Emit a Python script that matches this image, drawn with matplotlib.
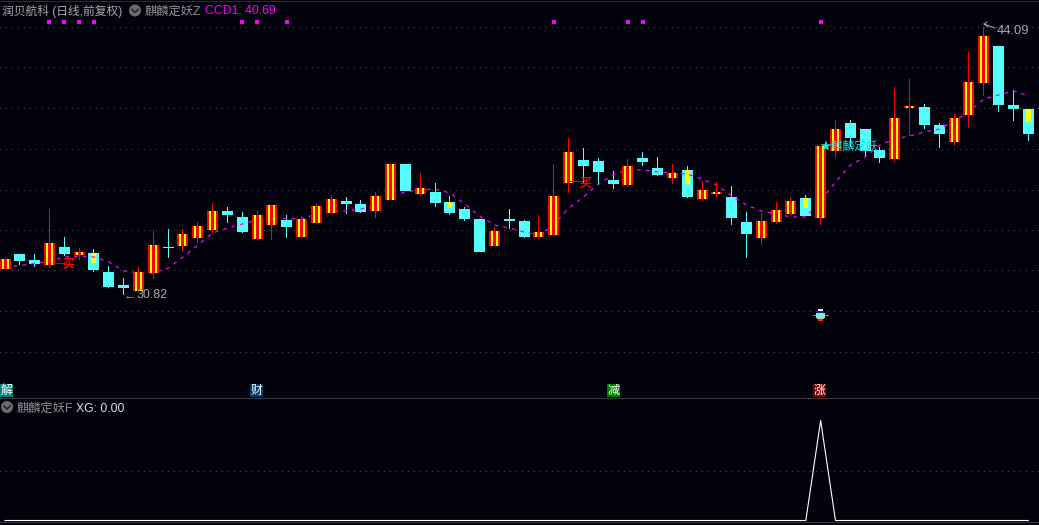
import matplotlib
matplotlib.use("Agg")
import matplotlib.pyplot as plt
from matplotlib.patches import Ellipse, Rectangle
from matplotlib.lines import Line2D

plt.rcParams['font.family'] = ['Liberation Sans', 'Noto Sans CJK SC', 'DejaVu Sans']

W, H = 1039, 525
BG = '#02020c'
RED = '#ff0000'
CYAN = '#54fcfc'
YELLOW = '#ffff00'
MAGENTA = '#ff00ff'

opens = [32.11, 32.86, 32.56, 32.31, 33.20, 32.81, 32.91, 31.97, 31.32, 31.03,
         31.92, 33.20, 33.25, 33.65, 34.05, 34.99, 34.69, 33.60, 34.29, 34.54,
         33.70, 34.39, 34.89, 35.48, 35.33, 34.99, 35.53, 37.31, 35.83, 35.93,
         35.43, 35.08, 34.59, 33.25, 34.59, 34.49, 33.70, 33.80, 36.37, 37.51,
         37.46, 36.52, 36.27, 37.61, 37.11, 36.62, 37.02, 35.58, 35.83, 35.68,
         34.44, 33.65, 34.44, 34.84, 35.63, 34.64, 37.96, 39.34, 39.04, 38.01,
         37.56, 40.08, 40.13, 39.24, 38.40, 39.74, 41.32, 43.15, 40.23, 40.03]
closes = [32.61, 32.51, 32.36, 33.40, 32.86, 32.96, 32.07, 31.22, 31.17, 31.97,
          33.30, 33.15, 33.85, 34.24, 34.99, 34.79, 33.95, 34.79, 35.28, 34.19,
          34.59, 35.23, 35.58, 35.33, 34.94, 35.73, 37.31, 35.98, 36.12, 35.38,
          34.89, 34.59, 32.96, 34.00, 34.49, 33.70, 33.95, 35.73, 37.91, 37.21,
          36.92, 36.32, 37.21, 37.41, 36.77, 36.87, 35.68, 36.03, 35.93, 34.64,
          33.85, 34.49, 35.04, 35.48, 34.74, 38.20, 39.04, 38.60, 37.96, 37.61,
          39.59, 40.18, 39.24, 38.80, 39.59, 41.37, 43.65, 40.23, 40.03, 38.80]
highs = [32.68, 32.86, 32.86, 35.08, 33.70, 33.15, 33.10, 32.26, 31.67, 32.21,
         34.05, 34.10, 34.10, 34.44, 35.38, 35.18, 34.94, 35.04, 35.28, 34.79,
         34.74, 35.38, 35.78, 35.68, 35.53, 35.93, 37.36, 37.31, 36.87, 36.37,
         35.73, 35.18, 34.59, 34.19, 35.08, 34.54, 34.79, 37.31, 38.60, 38.10,
         37.61, 36.97, 37.56, 37.91, 37.66, 37.31, 37.21, 36.47, 36.42, 36.22,
         34.94, 34.89, 35.43, 35.68, 35.78, 38.20, 39.49, 39.49, 39.04, 38.15,
         41.12, 41.52, 40.28, 39.34, 39.79, 42.86, 44.09, 43.15, 40.98, 40.03]
lows = [32.11, 32.31, 32.21, 32.16, 32.76, 32.56, 31.97, 31.17, 30.82, 31.03,
        31.62, 32.66, 32.96, 33.40, 33.90, 34.39, 33.90, 33.60, 33.55, 33.65,
        33.70, 34.39, 34.89, 34.84, 34.89, 34.64, 35.53, 35.98, 35.78, 35.18,
        34.79, 34.49, 32.96, 33.25, 34.10, 33.65, 33.60, 33.80, 35.88, 36.37,
        36.27, 36.07, 36.22, 37.21, 36.72, 36.32, 35.63, 35.48, 35.63, 34.29,
        32.66, 33.30, 34.34, 34.79, 34.74, 34.29, 37.61, 38.15, 37.71, 37.36,
        37.41, 38.70, 39.04, 38.10, 38.20, 39.09, 40.68, 39.89, 39.44, 38.45]
ccd1 = [32.21, 32.29, 32.39, 32.51, 32.71, 32.76, 32.71, 32.46, 32.02, 31.92,
        31.92, 32.16, 32.71, 33.30, 33.90, 34.14, 34.34, 34.54, 34.64, 34.61,
        34.59, 34.84, 34.94, 34.99, 35.08, 35.28, 35.73, 35.93, 36.03, 36.07,
        35.88, 35.33, 34.74, 34.29, 34.14, 33.95, 33.80, 34.29, 35.13, 35.68,
        36.32, 36.77, 37.02, 37.02, 36.92, 36.87, 36.82, 36.57, 36.27, 35.73,
        35.28, 34.99, 34.84, 34.69, 34.69, 35.53, 36.42, 37.26, 37.66, 38.25,
        38.55, 38.70, 38.90, 39.04, 39.44, 39.89, 40.53, 40.73, 40.93, 40.69]

# cyan days that carry a yellow block: index -> lower end of the block
flag_days = [6, 30, 46, 54, 69]
flag_bottoms = [32.41, 35.13, 36.32, 35.13, 39.39]

# small magenta squares along the top
signal_days = [3, 4, 5, 6, 16, 17, 19, 37, 42, 43, 55]
signal_price = 44.34

grid_prices = [44.10, 42.09, 40.09, 38.05, 36.05, 34.07, 32.06, 30.03, 28.03]

xg = [0] * 70
xg[55] = 1

n = len(opens)
days = list(range(n))
up = [d for d in days if closes[d] >= opens[d]]
down = [d for d in days if closes[d] < opens[d]]

STEP = 14.83
px = 1 / STEP
split = 398


def fx(x):
    return x / W


def fy(y):
    return 1 - y / H


def label(x, y, s, **kw):
    kw.setdefault('va', 'center')
    kw.setdefault('fontsize', 8.8)
    # the CJK line box sits high, so nudge down to the wanted centre
    fig.text(fx(x), fy(y + 1.5), s, **kw)


def box(x0, y0, x1, y1, color, z=5):
    fig.add_artist(Rectangle((fx(x0), fy(y1)), (x1 - x0) / W, (y1 - y0) / H,
                             transform=fig.transFigure, facecolor=color,
                             edgecolor='none', antialiased=False, zorder=z))


def rule(x0, x1, y, color, lw=0.7):
    fig.add_artist(Line2D([fx(x0), fx(x1)], [fy(y), fy(y)], transform=fig.transFigure,
                          color=color, lw=lw, antialiased=False))


def menu_icon(x, y):
    fig.add_artist(Ellipse((fx(x), fy(y)), 12 / W, 12 / H, transform=fig.transFigure,
                           facecolor='#6a6a6a', edgecolor='none', zorder=5))
    fig.add_artist(Line2D([fx(x - 3), fx(x), fx(x + 3)], [fy(y - 1), fy(y + 2), fy(y - 1)],
                          transform=fig.transFigure, color='#1c1c1c', lw=1.0, zorder=6))


fig = plt.figure(figsize=(W / 100, H / 100), dpi=100, facecolor=BG)
ax = fig.add_axes([0, (H - split) / H, 1, split / H], facecolor=BG)
ax2 = fig.add_axes([0, 0, 1, (H - split) / H], facecolor=BG)

xlim = (-5 * px, (W - 5) * px)
for a in (ax, ax2):
    a.set_xlim(xlim)
    a.set_xticks([])
    a.set_yticks([])
    for s in a.spines.values():
        s.set_visible(False)
ax.set_ylim(25.73, 45.43)
ax2.set_ylim(-0.045, 1.225)

ax.hlines(grid_prices, xlim[0], xlim[1], color='#4a4a4a', lw=0.7,
          linestyle=(0, (1, 6)), zorder=1, antialiased=False)
ax2.hlines([0.5], xlim[0], xlim[1], color='#4a4a4a', lw=0.7,
           linestyle=(0, (1, 6)), zorder=1, antialiased=False)

# wicks as one pixel bars, they come out sharper than vlines here
# down days sit under the dashed line, up days above it
ax.bar(down, [highs[d] - lows[d] for d in down], bottom=[lows[d] for d in down],
       width=px, color=CYAN, zorder=2, antialiased=False)
ax.bar(down, [opens[d] - closes[d] for d in down], bottom=[closes[d] for d in down],
       width=11 * px, color=CYAN, zorder=3, antialiased=False)
ax.bar(flag_days, [opens[d] - b for d, b in zip(flag_days, flag_bottoms)], bottom=flag_bottoms,
       width=5 * px, color=YELLOW, zorder=3.5, antialiased=False)

ax.plot(days, ccd1, color=MAGENTA, lw=0.9, linestyle=(0, (3, 4)), zorder=4)

ax.bar(up, [highs[d] - lows[d] for d in up], bottom=[lows[d] for d in up],
       width=px, color=RED, zorder=5, antialiased=False)
ax.bar(up, [closes[d] - opens[d] for d in up], bottom=[opens[d] for d in up],
       width=11 * px, color=RED, zorder=6, antialiased=False)
for off in (-2.5, 2.5):
    ax.bar([d + off * px for d in up], [closes[d] - opens[d] for d in up],
           bottom=[opens[d] for d in up], width=2 * px, color=YELLOW, zorder=7, antialiased=False)

ax.plot(signal_days, [signal_price] * len(signal_days), linestyle='none', marker='s',
        markersize=2.9, color=MAGENTA, markeredgewidth=0, zorder=8)

ax2.plot(days, xg, color='white', lw=0.8, zorder=3)

# panel rules
rule(0, W, split, '#3a3a3a')
rule(0, W, 522, '#3a3a3a')
rule(0, W, 1, '#2c2c2c')

# header rows
label(2, 10, '润贝航科 (日线,前复权)', color='#a9a9a9', fontsize=8.5)
menu_icon(135, 10.5)
label(145, 10, '麒麟定妖Z', color='#8f8f8f')
label(205, 10, 'CCD1: 40.69', color=MAGENTA)
menu_icon(7, 407)
label(17, 407, '麒麟定妖F', color='#8f8f8f')
label(76, 407, 'XG: 0.00', color='#cfe0f5')

# high / low marks
label(124, 293.5, '←', color='#a8a8a8', zorder=9)
label(137, 293.5, '30.82', color='#a8a8a8', fontsize=9.0, zorder=9)
label(997, 29.5, '44.09', color='#a8a8a8', fontsize=9.3, zorder=9)
fig.add_artist(Line2D([fx(984), fx(995)], [fy(24), fy(28)], transform=fig.transFigure,
                      color='#a8a8a8', lw=0.7, zorder=9))
fig.add_artist(Line2D([fx(987), fx(984), fx(988)], [fy(22), fy(24), fy(27)],
                      transform=fig.transFigure, color='#a8a8a8', lw=0.7, zorder=9))

# buy marks
for x0, y0 in ((53, 263), (570, 181.5)):
    rule(x0, x0 + 11, y0, '#e80000')
    label(x0 + 10, y0, '买', color='#ff0000', fontsize=8.6, fontweight='bold', zorder=9)

label(820, 145, '★麒麟定妖', color='#14e6e6', fontsize=8.5, zorder=9)

# ufo icon
rule(813, 828, 315, '#8a8a8a')
box(818, 309, 823, 311, '#ffffff')
box(817, 311, 824, 313, '#0018e0')
box(816, 313, 825, 318, '#78f0c0')
box(817, 318, 824, 319, '#c0c0c0')
box(818, 319, 823, 321, '#ff2020')

# news tags
for x0, s, c in ((0, '解', '#008080'), (250, '财', '#003a70'),
                 (607, '减', '#008000'), (813, '涨', '#800000')):
    box(x0, 384, x0 + 13, 397, c)
    label(x0 + 6.5, 389.5, s, color='white', fontsize=8.6, ha='center', zorder=9)

fig.savefig('out.png', dpi=100, facecolor=BG)
